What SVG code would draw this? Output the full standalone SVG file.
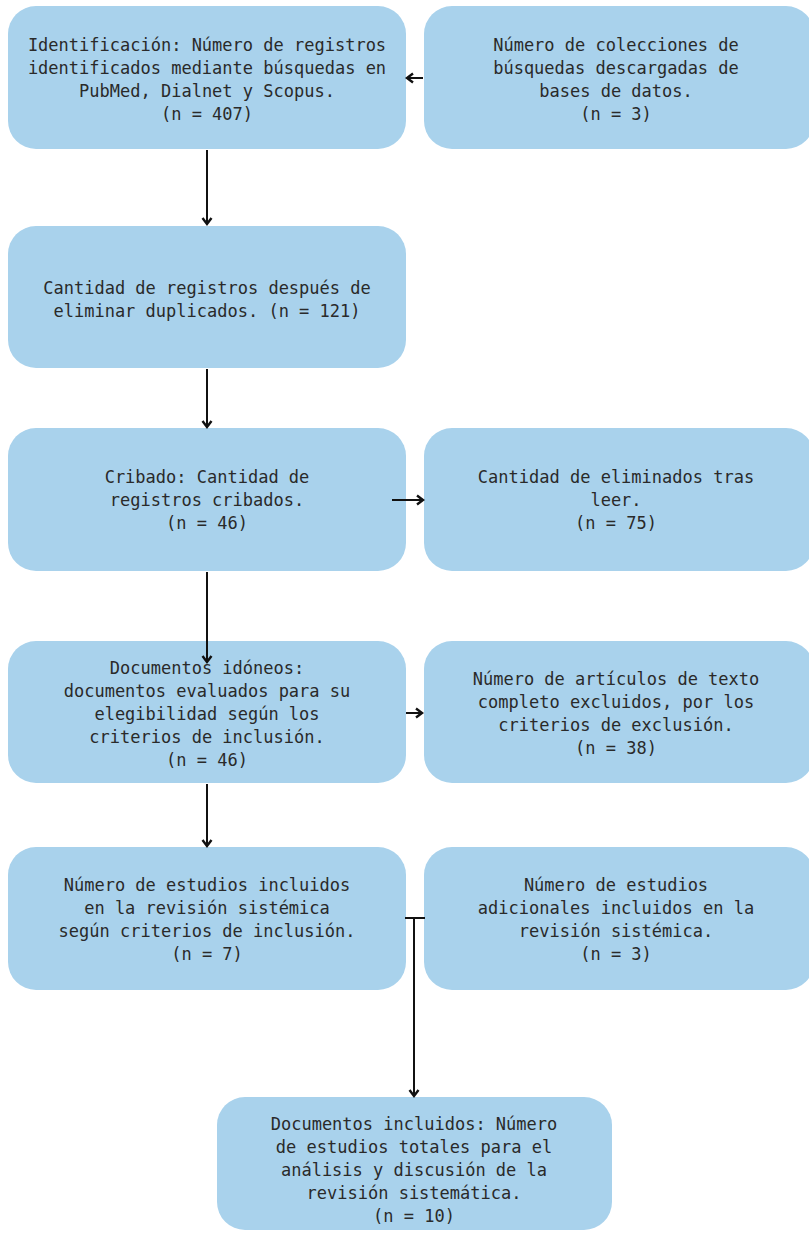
<svg xmlns="http://www.w3.org/2000/svg" width="809" height="1233" viewBox="0 0 809 1233">
  <defs>
    <style>
      .box { fill: #a9d2ec; }
      .t { font-family: "DejaVu Sans Mono", "Liberation Mono", monospace; font-size: 17px; fill: #2a2a2a; text-anchor: middle; }
      .c { stroke: #111111; stroke-width: 2; fill: none; }
    </style>
    <marker id="ah" markerUnits="userSpaceOnUse" markerWidth="12" markerHeight="12" refX="9" refY="6" orient="auto">
      <path d="M3,1.5 L9,6 L3,10.5" fill="none" stroke="#111111" stroke-width="2.4"/>
    </marker>
  </defs>
  <rect width="809" height="1233" fill="#ffffff"/>

  <g id="n1">
    <rect class="box" x="8" y="6" width="398" height="143" rx="28"/>
    <text class="t" x="207" y="51">Identificación: Número de registros</text>
    <text class="t" x="207" y="74">identificados mediante búsquedas en</text>
    <text class="t" x="207" y="97">PubMed, Dialnet y Scopus.</text>
    <text class="t" x="207" y="120">(n = 407)</text>
  </g>
  <g id="n1b">
    <rect class="box" x="424" y="6" width="390" height="143" rx="28"/>
    <text class="t" x="616" y="51">Número de colecciones de</text>
    <text class="t" x="616" y="74">búsquedas descargadas de</text>
    <text class="t" x="616" y="97">bases de datos.</text>
    <text class="t" x="616" y="120">(n = 3)</text>
  </g>
  <g id="n2">
    <rect class="box" x="8" y="226" width="398" height="142" rx="28"/>
    <text class="t" x="207" y="294">Cantidad de registros después de</text>
    <text class="t" x="207" y="317">eliminar duplicados. (n = 121)</text>
  </g>
  <g id="n3">
    <rect class="box" x="8" y="428" width="398" height="143" rx="28"/>
    <text class="t" x="207" y="483">Cribado: Cantidad de</text>
    <text class="t" x="207" y="506">registros cribados.</text>
    <text class="t" x="207" y="529">(n = 46)</text>
  </g>
  <g id="n3b">
    <rect class="box" x="424" y="428" width="390" height="143" rx="28"/>
    <text class="t" x="616" y="483">Cantidad de eliminados tras</text>
    <text class="t" x="616" y="506">leer.</text>
    <text class="t" x="616" y="529">(n = 75)</text>
  </g>
  <g id="n4">
    <rect class="box" x="8" y="641" width="398" height="142" rx="28"/>
    <text class="t" x="207" y="674">Documentos idóneos:</text>
    <text class="t" x="207" y="697">documentos evaluados para su</text>
    <text class="t" x="207" y="720">elegibilidad según los</text>
    <text class="t" x="207" y="743">criterios de inclusión.</text>
    <text class="t" x="207" y="766">(n = 46)</text>
  </g>
  <g id="n4b">
    <rect class="box" x="424" y="641" width="390" height="142" rx="28"/>
    <text class="t" x="616" y="685">Número de artículos de texto</text>
    <text class="t" x="616" y="708">completo excluidos, por los</text>
    <text class="t" x="616" y="731">criterios de exclusión.</text>
    <text class="t" x="616" y="754">(n = 38)</text>
  </g>
  <g id="n5">
    <rect class="box" x="8" y="847" width="398" height="143" rx="28"/>
    <text class="t" x="207" y="891">Número de estudios incluidos</text>
    <text class="t" x="207" y="914">en la revisión sistémica</text>
    <text class="t" x="207" y="937">según criterios de inclusión.</text>
    <text class="t" x="207" y="960">(n = 7)</text>
  </g>
  <g id="n5b">
    <rect class="box" x="424" y="847" width="390" height="143" rx="28"/>
    <text class="t" x="616" y="891">Número de estudios</text>
    <text class="t" x="616" y="914">adicionales incluidos en la</text>
    <text class="t" x="616" y="937">revisión sistémica.</text>
    <text class="t" x="616" y="960">(n = 3)</text>
  </g>
  <g id="n6">
    <rect class="box" x="217" y="1097" width="395" height="133" rx="28"/>
    <text class="t" x="414" y="1130">Documentos incluidos: Número</text>
    <text class="t" x="414" y="1153">de estudios totales para el</text>
    <text class="t" x="414" y="1176">análisis y discusión de la</text>
    <text class="t" x="414" y="1199">revisión sistemática.</text>
    <text class="t" x="414" y="1222">(n = 10)</text>
  </g>

  <g id="connectors">
    <line class="c" x1="423" y1="78" x2="407" y2="78" marker-end="url(#ah)"/>
    <line class="c" x1="207" y1="150" x2="207" y2="224" marker-end="url(#ah)"/>
    <line class="c" x1="207" y1="369" x2="207" y2="427" marker-end="url(#ah)"/>
    <line class="c" x1="392" y1="500" x2="423" y2="500" marker-end="url(#ah)"/>
    <line class="c" x1="207" y1="572" x2="207" y2="662" marker-end="url(#ah)"/>
    <line class="c" x1="406" y1="713" x2="422" y2="713" marker-end="url(#ah)"/>
    <line class="c" x1="207" y1="784" x2="207" y2="846" marker-end="url(#ah)"/>
    <line class="c" x1="405" y1="918" x2="425" y2="918"/>
    <line class="c" x1="414" y1="918" x2="414" y2="1096" marker-end="url(#ah)"/>
  </g>
</svg>
